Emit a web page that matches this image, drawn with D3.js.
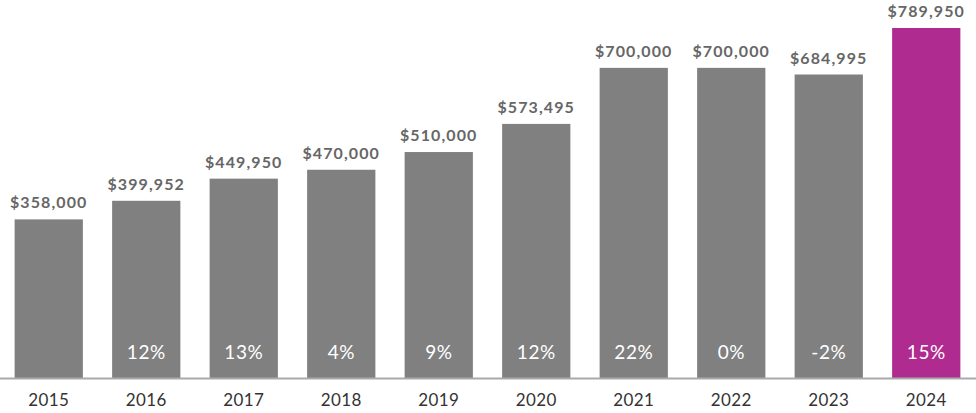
<!DOCTYPE html>
<html><head><meta charset="utf-8">
<script src="https://cdn.jsdelivr.net/npm/d3@7"></script>
<style>body{margin:0;background:#fff}svg{display:block}</style>
</head><body><svg id="c" width="976" height="413"></svg>
<script>
const years = ["2015","2016","2017","2018","2019","2020","2021","2022","2023","2024"];
const prices = [358000,399952,449950,470000,510000,573495,700000,700000,684995,789950];
const changes = ["","12%","13%","4%","9%","12%","22%","0%","-2%","15%"];

const svg = d3.select("#c");
const W = 976, base = 378;
const x = d3.scaleBand().domain(years).range([0,975]).paddingInner(0.3).paddingOuter(0.15);
const y = d3.scaleLinear().domain([0,789950]).range([base,28]);
const font = "Lato, 'Open Sans', sans-serif";

svg.selectAll("rect.bar").data(years).join("rect")
  .attr("x", d=>x(d)).attr("width", x.bandwidth())
  .attr("y", (d,i)=>y(prices[i])).attr("height",(d,i)=>base-y(prices[i]))
  .attr("fill",(d,i)=>i===years.length-1?"#b02b8f":"#808080");

svg.append("line").attr("x1",0).attr("x2",W).attr("y1",base+0.5).attr("y2",base+0.5)
  .attr("stroke","#aaaaaa").attr("stroke-width",2);

svg.selectAll("text.val").data(years).join("text")
  .attr("x", d=>x(d)+x.bandwidth()/2).attr("y",(d,i)=>y(prices[i])-11)
  .attr("text-anchor","middle").attr("font-family",font).attr("font-weight","bold")
  .attr("font-size",16).attr("letter-spacing",1.1).attr("fill","#666").text((d,i)=>"$"+d3.format(",")(prices[i]));

svg.selectAll("text.pct").data(years).join("text")
  .attr("x", d=>x(d)+x.bandwidth()/2).attr("y",359)
  .attr("text-anchor","middle").attr("font-family",font)
  .attr("font-size",19).attr("letter-spacing",0.5).attr("fill","#fff").text((d,i)=>changes[i]);

svg.selectAll("text.yr").data(years).join("text")
  .attr("x", d=>x(d)+x.bandwidth()/2).attr("y",406)
  .attr("text-anchor","middle").attr("font-family",font)
  .attr("font-size",17).attr("letter-spacing",0.4).attr("fill","#333").text(d=>d);
</script></body></html>
